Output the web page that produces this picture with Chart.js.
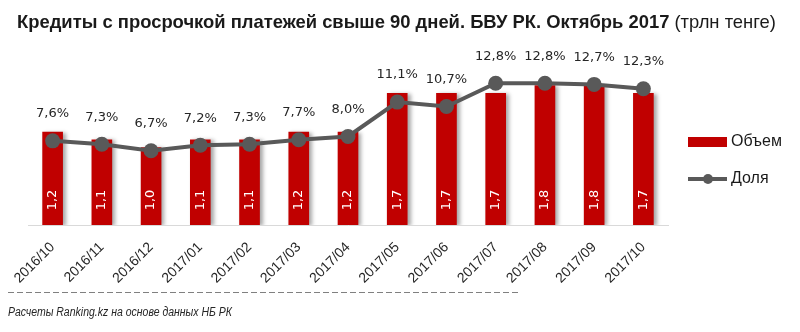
<!DOCTYPE html>
<html>
<head>
  <meta charset="utf-8">
  <title>Кредиты с просрочкой платежей свыше 90 дней</title>
  <script src="https://cdn.jsdelivr.net/npm/chart.js"></script>
  <style>
    body { margin: 0; background: #fff; }
    #wrap { position: relative; width: 800px; height: 332px; overflow: hidden; }
    #chart { position: absolute; left: 0; top: 0; }
    #title {
      position: absolute; left: 17px; top: 11px; white-space: nowrap;
      font-family: "Liberation Sans", sans-serif;
      font-size: 18.4px; font-weight: bold; color: #1a1a1a;
    }
    #title span { font-weight: normal; font-size: 18.4px; }
    #source {
      position: absolute; left: 8px; top: 305px; white-space: nowrap;
      font-family: "Liberation Sans", sans-serif;
      font-size: 12.5px; font-style: italic; color: #262626;
      transform: scaleX(0.84); transform-origin: 0 0;
    }
    #rule { position: absolute; left: 8px; top: 291px; }
  </style>
</head>
<body>
<div id="wrap">
  <canvas id="chart" width="800" height="332"></canvas>
  <div id="title">Кредиты с просрочкой платежей свыше 90 дней. БВУ РК. Октябрь 2017 <span>(трлн тенге)</span></div>
  <svg id="rule" width="510" height="3"><line x1="0" y1="1.5" x2="510" y2="1.5" stroke="#808080" stroke-width="1" stroke-dasharray="6 3"/></svg>
  <div id="source">Расчеты Ranking.kz на основе данных НБ РК</div>
</div>

<script>
const months = ['2016/10', '2016/11', '2016/12', '2017/01', '2017/02', '2017/03', '2017/04',
                '2017/05', '2017/06', '2017/07', '2017/08', '2017/09', '2017/10'];
// объем просроченных кредитов, трлн тенге
const volume = [1.2, 1.1, 1.0, 1.1, 1.1, 1.2, 1.2, 1.7, 1.7, 1.7, 1.8, 1.8, 1.7];
// доля в ссудном портфеле, %
const share = [7.6, 7.3, 6.7, 7.2, 7.3, 7.7, 8.0, 11.1, 10.7, 12.8, 12.8, 12.7, 12.3];

const RED = '#c00000';
const GREY = '#595959';
const fmt = v => v.toFixed(1).replace('.', ',');

// тень у столбцов
const barShadow = {
  id: 'barShadow',
  beforeDatasetDraw(chart, args) {
    if (chart.data.datasets[args.index].type !== 'bar') return;
    const ctx = chart.ctx;
    ctx.save();
    ctx.shadowColor = 'rgba(0,0,0,0.35)';
    ctx.shadowBlur = 4;
    ctx.shadowOffsetX = 3;
    ctx.shadowOffsetY = 1;
  },
  afterDatasetDraw(chart, args) {
    if (chart.data.datasets[args.index].type !== 'bar') return;
    chart.ctx.restore();
  }
};

// подписи значений: проценты над точками, объем внутри столбцов
const valueLabels = {
  id: 'valueLabels',
  afterDatasetsDraw(chart) {
    const ctx = chart.ctx;
    const bars = chart.getDatasetMeta(1).data;
    const pts = chart.getDatasetMeta(0).data;
    ctx.save();
    ctx.font = '13px "DejaVu Sans"';
    ctx.textBaseline = 'middle';
    ctx.textAlign = 'center';
    ctx.fillStyle = '#262626';
    pts.forEach((p, i) => ctx.fillText(fmt(share[i]) + '%', p.x, p.y - 27));
    ctx.fillStyle = '#fff';
    bars.forEach((b, i) => {
      ctx.save();
      ctx.translate(b.x, b.base - 25);
      ctx.rotate(-Math.PI / 2);
      ctx.fillText(fmt(volume[i]), 0, 0);
      ctx.restore();
    });
    ctx.restore();
  }
};

// легенда справа от области графика
const sideLegend = {
  id: 'sideLegend',
  afterDraw(chart) {
    const ctx = chart.ctx;
    const x = chart.chartArea.right + 20;
    ctx.save();
    ctx.fillStyle = RED;
    ctx.fillRect(x, 137, 39, 10);
    ctx.strokeStyle = GREY;
    ctx.lineWidth = 4;
    ctx.beginPath();
    ctx.moveTo(x, 179);
    ctx.lineTo(x + 39, 179);
    ctx.stroke();
    ctx.fillStyle = GREY;
    ctx.beginPath();
    ctx.arc(x + 20, 179, 5, 0, Math.PI * 2);
    ctx.fill();
    ctx.fillStyle = '#1a1a1a';
    ctx.font = '16px "Liberation Sans"';
    ctx.textBaseline = 'middle';
    ctx.fillText('Объем', x + 43, 142);
    ctx.fillText('Доля', x + 43, 179);
    ctx.restore();
  }
};

new Chart(document.getElementById('chart'), {
  data: {
    labels: months,
    datasets: [
      {
        type: 'line',
        label: 'Доля',
        data: share,
        yAxisID: 'y1',
        borderColor: GREY,
        borderWidth: 4,
        pointRadius: 7.5,
        pointBackgroundColor: GREY,
        pointBorderWidth: 0,
        tension: 0
      },
      {
        type: 'bar',
        label: 'Объем',
        data: volume,
        yAxisID: 'y',
        backgroundColor: RED,
        barThickness: 20
      }
    ]
  },
  options: {
    responsive: false,
    animation: false,
    layout: { padding: { left: 28, right: 132, top: 39, bottom: 0 } },
    plugins: { legend: { display: false }, tooltip: { enabled: false } },
    scales: {
      x: {
        grid: { display: false },
        border: { color: '#d9d9d9', width: 1 },
        ticks: {
          autoSkip: false,
          minRotation: 45,
          maxRotation: 45,
          padding: 6,
          color: '#262626',
          font: { family: '"Liberation Sans"', size: 14 }
        },
        afterFit(scale) { scale.height = 107; }
      },
      y: { display: false, min: 0, max: 2.4 },
      y1: { display: false, min: 0, max: 16.8 }
    }
  },
  plugins: [barShadow, valueLabels, sideLegend]
});
</script>
</body>
</html>
